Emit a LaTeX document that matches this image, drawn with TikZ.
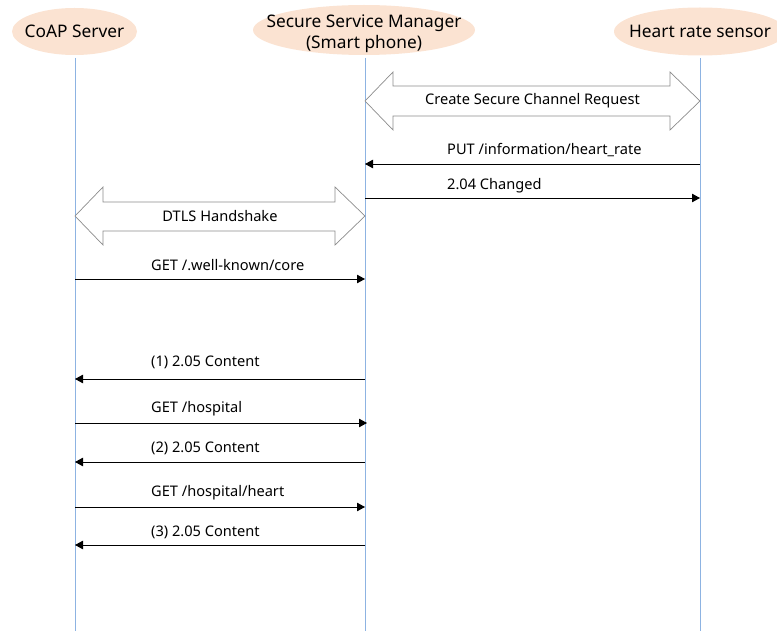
\documentclass[tikz,border=0pt]{standalone}
\usepackage{fontspec}
\setmainfont{Noto Sans}
\usetikzlibrary{arrows.meta,calc,shapes.geometric}
\definecolor{actorfill}{HTML}{FBE3D2}
\definecolor{lifeblue}{HTML}{8DB3E2}
\definecolor{blockgray}{HTML}{8C8C8C}
\tikzset{
  actor/.style={ellipse, fill=actorfill, inner sep=0pt},
  actorname/.style={inner sep=0pt, align=center, font=\fontsize{17.3}{21}\selectfont},
  lifeline/.style={draw=lifeblue, line width=1pt},
  msg/.style={draw=black, line width=0.8pt, -{Triangle[length=8pt,width=8.5pt]}},
  msglabel/.style={anchor=west, inner sep=0pt, font=\fontsize{14.6}{17}\selectfont},
  blocklabel/.style={inner sep=0pt, font=\fontsize{14.6}{17}\selectfont},
  blockarrow/.style={draw=blockgray, fill=white, line width=0.7pt, line join=miter}
}
\begin{document}
\begin{tikzpicture}[x=1pt,y=-1pt]
\useasboundingbox (0,0) rectangle (777,631);

% participants
\node[actor, minimum width=125pt, minimum height=47pt] (coap) at (74.5,31.5) {};
\node[actorname] (coapname) at (coap.center) {CoAP Server};
\node[actor, minimum width=222pt, minimum height=50pt] (ssm) at (364,30) {};
\node[actorname] (ssmname) at ($(ssm.center)+(0,4)$) {Secure Service Manager\\(Smart phone)};
\node[actor, minimum width=172pt, minimum height=48pt] (hrs) at (700,31.5) {};
\node[actorname] (hrsname) at (hrs.center) {Heart rate sensor};

% lifelines
\coordinate (coapEnd) at (75,631);
\coordinate (ssmEnd) at (365,631);
\coordinate (hrsEnd) at (700,631);
\draw[lifeline] (75,58) -- (coapEnd);
\draw[lifeline] (365,58) -- (ssmEnd);
\draw[lifeline] (700,58) -- (hrsEnd);

% double block arrow: Create Secure Channel Request
\coordinate (csL) at (365,101);
\coordinate (csR) at (700,101);
\draw[blockarrow] (csL) -- ($(csL)+(28,-29)$) -- ($(csL)+(28,-15)$) -- ($(csR)+(-30,-15)$)
  -- ($(csR)+(-30,-29)$) -- (csR) -- ($(csR)+(-30,29)$) -- ($(csR)+(-30,15)$)
  -- ($(csL)+(28,15)$) -- ($(csL)+(28,29)$) -- cycle;
\node[blocklabel] (cslabel) at ($(csL)!0.5!(csR)$) {Create Secure Channel Request};

% PUT and reply
\draw[msg] (hrsEnd |- 0,164) -- (ssmEnd |- 0,164);
\node[msglabel] (putlabel) at (447,150) {PUT /information/heart\_rate};
\draw[msg] (ssmEnd |- 0,198) -- (hrsEnd |- 0,198);
\node[msglabel] (chglabel) at (447,186) {2.04 Changed};

% double block arrow: DTLS Handshake
\coordinate (dtL) at (75,216);
\coordinate (dtR) at (365,216);
\draw[blockarrow] (dtL) -- ($(dtL)+(28,-29)$) -- ($(dtL)+(28,-14)$) -- ($(dtR)+(-30,-14)$)
  -- ($(dtR)+(-30,-29)$) -- (dtR) -- ($(dtR)+(-30,29)$) -- ($(dtR)+(-30,15)$)
  -- ($(dtL)+(28,15)$) -- ($(dtL)+(28,29)$) -- cycle;
\node[blocklabel] (dtlabel) at ($(dtL)!0.5!(dtR)$) {DTLS Handshake};

% resource discovery and retrieval
\draw[msg] (coapEnd |- 0,279) -- (ssmEnd |- 0,279);
\node[msglabel] (m1) at (151,265) {GET /.well-known/core};
\draw[msg] (ssmEnd |- 0,379) -- (coapEnd |- 0,379);
\node[msglabel] (m2) at (151,362) {(1) 2.05 Content};
\draw[msg] (coapEnd |- 0,423) -- (367,423);
\node[msglabel] (m3) at (151,409) {GET /hospital};
\draw[msg] (ssmEnd |- 0,462) -- (coapEnd |- 0,462);
\node[msglabel] (m4) at (151,448) {(2) 2.05 Content};
\draw[msg] (coapEnd |- 0,507) -- (ssmEnd |- 0,507);
\node[msglabel] (m5) at (151,493) {GET /hospital/heart};
\draw[msg] (ssmEnd |- 0,545) -- (coapEnd |- 0,545);
\node[msglabel] (m6) at (151,532) {(3) 2.05 Content};
\end{tikzpicture}
\end{document}
